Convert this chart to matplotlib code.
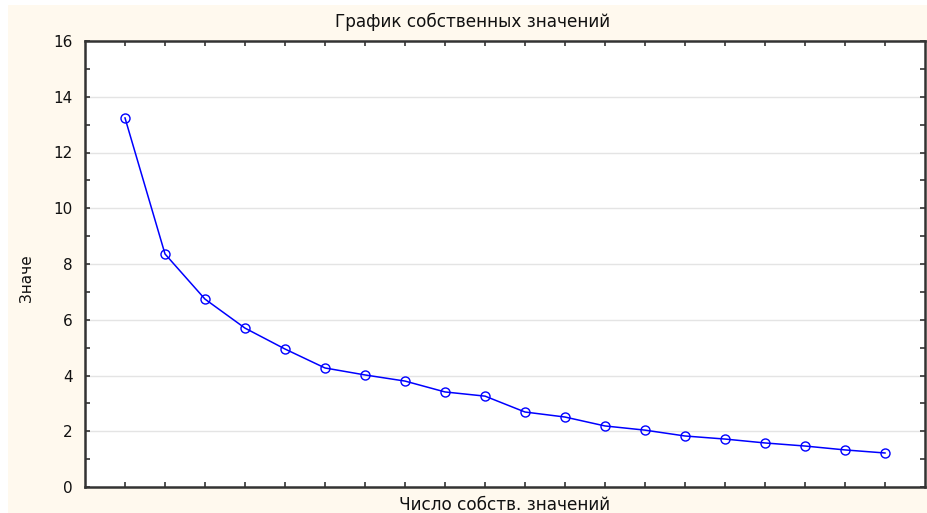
import matplotlib.pyplot as plt
from matplotlib.patches import Rectangle
from matplotlib.ticker import MultipleLocator

plt.rcParams['font.family'] = ['DejaVu Sans']

# собственные значения по номеру
numbers = list(range(1, 21))
eigenvalues = [13.24, 8.36, 6.74, 5.70, 4.95, 4.27, 4.02, 3.80, 3.41, 3.26,
               2.69, 2.51, 2.19, 2.04, 1.83, 1.72, 1.58, 1.47, 1.33, 1.22]

W, H = 927, 513
fig = plt.figure(figsize=(W / 100, H / 100), dpi=100, facecolor='white')
fig.patches.append(Rectangle((8 / W, 0), 1 - 8 / W, 1 - 5 / H,
                             transform=fig.transFigure, facecolor='#fff9ee',
                             edgecolor='none', zorder=-10))

ax = fig.add_axes([85 / W, (H - 487) / H, (925 - 85) / W, (487 - 41) / H])
ax.set_facecolor('white')

ax.plot(numbers, eigenvalues, color='#0000ff', linewidth=1.1,
        marker='o', markersize=6.5, markerfacecolor='none',
        markeredgecolor='#0000ff', markeredgewidth=1.0, zorder=3)

ax.set_xlim(0, 21)
ax.set_ylim(0, 16)
ax.set_xticks(numbers)
ax.set_xticklabels([])
ax.yaxis.set_major_locator(MultipleLocator(2))
ax.yaxis.set_minor_locator(MultipleLocator(1))

for v in range(2, 16, 2):
    ax.axhline(v, color='#e4e4e4', linewidth=1.0, zorder=1)

for s in ax.spines.values():
    s.set_color('#333333')
    s.set_linewidth(1.8)

ax.tick_params(which='both', direction='in', length=3.5, width=1.2,
               color='#333333', top=True, right=True, labelsize=11,
               labelcolor='#111111', pad=9)

fig.text(473 / W, 1 - 22 / H, 'График собственных значений', ha='center',
         va='center', fontsize=12.2, color='#111111')
fig.text(505 / W, 1 - 505 / H, 'Число собств. значений', ha='center',
         va='center', fontsize=12.2, color='#111111')
fig.text(27 / W, 1 - 278 / H, 'Значе', ha='center', va='center',
         rotation=90, fontsize=11, color='#111111')

fig.savefig('out.png', dpi=100, facecolor=fig.get_facecolor())
